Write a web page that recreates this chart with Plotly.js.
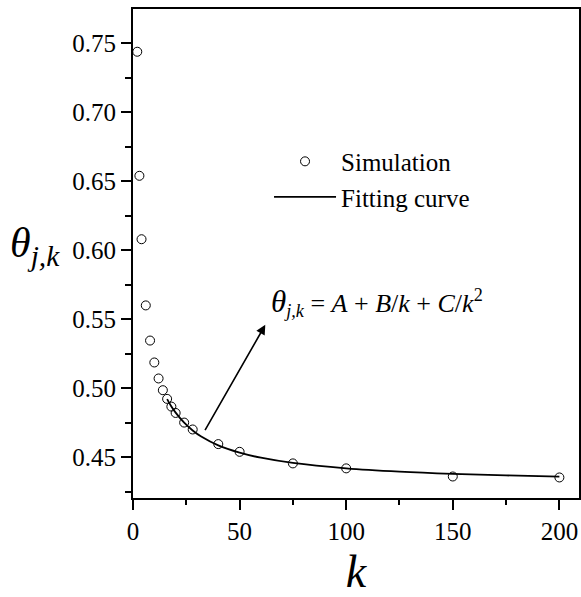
<!DOCTYPE html>
<html>
<head>
<meta charset="utf-8">
<script src="https://cdn.plot.ly/plotly-3.0.1.min.js"></script>
<style>html,body{margin:0;padding:0;background:#fff;}#chart{width:581px;height:597px;}</style>
</head>
<body>
<div id="chart"></div>
<script>
// Simulation data
const simK = [2, 3, 4, 6, 8, 10, 12, 14, 16, 18, 20, 24, 28, 40, 50, 75, 100, 150, 200];
const simTheta = [0.744, 0.654, 0.608, 0.560, 0.5345, 0.5186, 0.507, 0.4985, 0.4922, 0.4866, 0.482, 0.475, 0.470, 0.4594, 0.4538, 0.4454, 0.4418, 0.4359, 0.4352];

// Fitting curve
const fitK = [16, 18, 20, 24, 28, 32, 40, 50, 60, 75, 100, 125, 150, 175, 200];
const fitTheta = [0.4920, 0.4867, 0.4822, 0.4749, 0.4693, 0.4649, 0.4585, 0.4532, 0.4495, 0.4457, 0.4418, 0.4394, 0.4378, 0.4367, 0.4358];

const xTickVals = [0, 50, 100, 150, 200];
const yTickVals = [0.45, 0.50, 0.55, 0.60, 0.65, 0.70, 0.75];

const serif = "Liberation Serif";

const traces = [
  {
    x: simK, y: simTheta, type: 'scatter', mode: 'markers', name: 'Simulation',
    marker: {symbol: 'circle-open', size: 9, color: '#000', line: {width: 1, color: '#000'}}
  },
  {
    x: fitK, y: fitTheta, type: 'scatter', mode: 'lines', name: 'Fitting curve',
    line: {color: '#000', width: 1.8, shape: 'spline', smoothing: 1}
  }
];

function axisBase() {
  return {
    showgrid: false, zeroline: false, showline: true, linecolor: '#000', linewidth: 2,
    mirror: true, ticks: 'outside', ticklen: 10, tickwidth: 2, tickcolor: '#000',
    tickfont: {family: serif, size: 25, color: '#000'}
  };
}

const layout = {
  width: 581, height: 597,
  margin: {l: 133, r: 2, t: 9, b: 99},
  paper_bgcolor: '#fff', plot_bgcolor: '#fff',
  font: {family: serif, color: '#000'},
  showlegend: true,
  legend: {
    x: 0.305, y: 0.735, xanchor: 'left', yanchor: 'top',
    bgcolor: 'rgba(0,0,0,0)', borderwidth: 0,
    font: {family: serif, size: 25, color: '#000'},
    itemwidth: 62, tracegroupgap: 0
  },
  xaxis: Object.assign(axisBase(), {
    range: [0, 209.2], tickvals: xTickVals,
    minor: {tickvals: [25, 75, 125, 175], ticklen: 5, tickwidth: 2, tickcolor: '#000', ticks: 'outside'},
    title: {text: '<i>k</i>', font: {family: serif, size: 46, color: '#000'}, standoff: 22}
  }),
  yaxis: Object.assign(axisBase(), {
    range: [0.4203, 0.775], tickvals: yTickVals, tickformat: '.2f',
    minor: {tickvals: [0.425, 0.475, 0.525, 0.575, 0.625, 0.675, 0.725], ticklen: 6, tickwidth: 2, tickcolor: '#000', ticks: 'outside'}
  }),
  annotations: [
    {
      xref: 'paper', yref: 'paper', x: -0.28, y: 0.515, xanchor: 'left', yanchor: 'middle',
      showarrow: false,
      text: '<i>θ</i><sub><i>j,k</i></sub>',
      font: {family: serif, size: 42, color: '#000'}
    },
    {
      xref: 'paper', yref: 'paper', x: 0.305, y: 0.40, xanchor: 'left', yanchor: 'middle',
      showarrow: false,
      text: '<span style="font-size:31px"><i>θ</i></span><sub><i>j,k</i></sub> = <i>A</i> + <i>B</i>/<i>k</i> + <i>C</i>/<i>k</i><sup>2</sup>',
      font: {family: serif, size: 26, color: '#000'}
    },
    {
      xref: 'x', yref: 'y', axref: 'x', ayref: 'y',
      x: 62.05, y: 0.5459, ax: 33.4, ay: 0.4684,
      text: '', showarrow: true, arrowhead: 2, arrowsize: 1.2, arrowwidth: 1.6, arrowcolor: '#000', standoff: 0
    }
  ]
};

Plotly.newPlot('chart', traces, layout, {displayModeBar: false, staticPlot: true});
</script>
</body>
</html>
